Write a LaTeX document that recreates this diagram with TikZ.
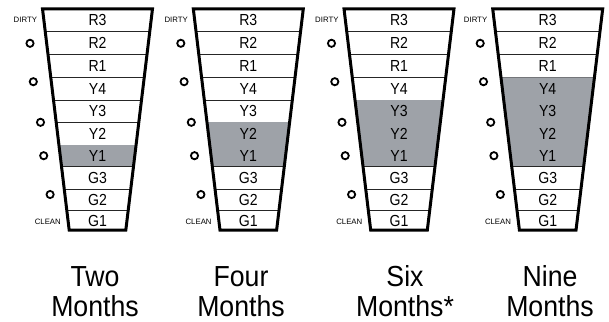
\documentclass[tikz,border=0pt]{standalone}
\usepackage{fontspec}
\setmainfont{Liberation Sans}
\definecolor{cellgray}{RGB}{158,162,168}
\begin{document}
\begin{tikzpicture}[x=1pt,y=-1pt,
  outline/.style={draw=black,line width=3pt,line join=miter},
  divider/.style={draw=black!85,line width=0.8pt},
  rowlab/.style={anchor=base,inner sep=0pt,xscale=0.88,font=\fontsize{16}{16}\selectfont},
  ring/.style={circle,draw=black,line width=1.8pt,minimum size=7.2pt,inner sep=0pt},
  tag/.style={inner sep=0pt,font=\fontsize{7.8}{7.8}\selectfont},
  caption/.style={anchor=base,inner sep=0pt,text depth=0pt,xscale=0.92,font=\fontsize{29}{29}\selectfont}]
\useasboundingbox (0,0) rectangle (609,321);
\fill[white] (0,0) rectangle (609,321);
\foreach \f/\cx/\ns in {1/97.5/1, 2/248.3/2, 3/399/3, 4/547.7/4} {
  \foreach \i/\lab/\ya/\yb in {0/R3/8.8/31, 1/R2/31/54.3, 2/R1/54.3/77.3, 3/Y4/77.3/100,
      4/Y3/100/122, 5/Y2/122/145, 6/Y1/145/166.7, 7/G3/166.7/189, 8/G2/189/210.7, 9/G1/210.7/230.2} {
    \pgfmathsetmacro\hwa{55-26.7*(\ya-8.8)/221.4}
    \pgfmathsetmacro\hwb{55-26.7*(\yb-8.8)/221.4}
    \pgfmathtruncatemacro\shade{and(\i>=7-\ns,\i<=6)}
    \ifnum\shade=1
      \fill[cellgray] (\cx-\hwa,\ya) -- (\cx+\hwa,\ya) -- (\cx+\hwb,\yb) -- (\cx-\hwb,\yb) -- cycle;
    \fi
    \ifnum\i<9
      \draw[divider] (\cx-\hwb,\yb) -- (\cx+\hwb,\yb);
    \fi
    \node[rowlab] (f\f-\lab) at (\cx,{(\ya+\yb)/2+5.7}) {\lab};
  }
  \draw[outline] (\cx-55,8.8) -- (\cx+55,8.8) -- (\cx+28.3,230.2) -- (\cx-28.3,230.2) -- cycle;
  \foreach \k/\dx/\cy in {1/-67.5/43.3, 2/-64.2/81.7, 3/-57/122.3, 4/-53.8/155.7, 5/-47.4/194.5}
    \node[ring] (f\f-c\k) at (\cx+\dx,\cy) {};
  \node[tag,anchor=east] (f\f-dirty) at (\cx-60.3,20) {DIRTY};
  \node[tag,anchor=east] (f\f-clean) at (\cx-36.5,222) {CLEAN};
}
\foreach \f/\lx/\ta/\tb in {1/95/Two/Months, 2/241/Four/Months, 3/405/Six/Months*, 4/550/Nine/Months} {
  \node[caption] (cap\f a) at (\lx,286.5) {\ta};
  \node[caption] (cap\f b) at (\lx,316) {\tb};
}
\end{tikzpicture}
\end{document}
